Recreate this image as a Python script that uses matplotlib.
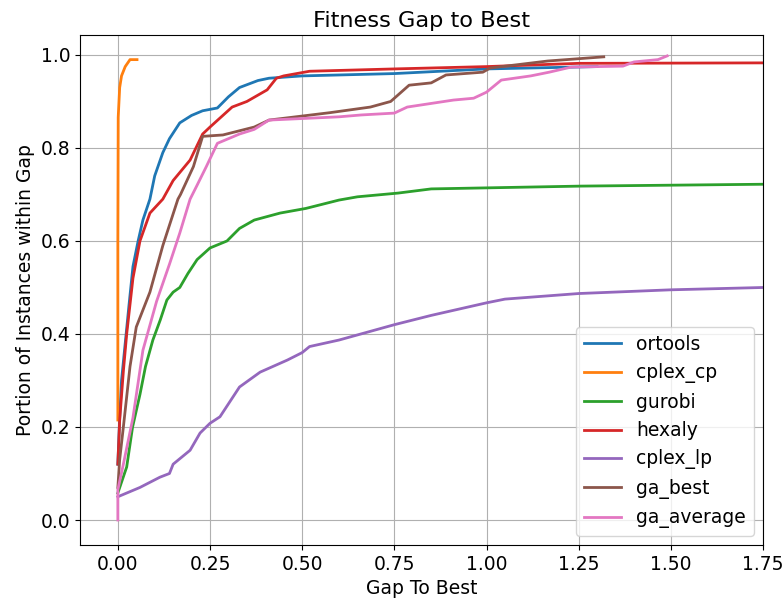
import matplotlib
matplotlib.use("Agg")
import matplotlib.pyplot as plt

# gap values (x) and portion of instances within gap (y)
ortools_x = [0.0, 0.005, 0.01, 0.02, 0.03, 0.041, 0.055, 0.068, 0.087, 0.1, 0.122, 0.14, 0.168, 0.2, 0.23, 0.27, 0.3, 0.33, 0.38, 0.41, 0.5, 0.75, 1.0, 1.3]
ortools_y = [0.12, 0.22, 0.3, 0.38, 0.46, 0.545, 0.6, 0.645, 0.69, 0.74, 0.79, 0.82, 0.854, 0.87, 0.88, 0.886, 0.91, 0.93, 0.945, 0.95, 0.955, 0.96, 0.97, 0.975]

cplex_cp_x = [0.0, 0.0, 0.001, 0.005, 0.01, 0.02, 0.033, 0.052]
cplex_cp_y = [0.215, 0.6, 0.866, 0.93, 0.955, 0.975, 0.99, 0.99]

gurobi_x = [0.0, 0.024, 0.04, 0.06, 0.075, 0.095, 0.115, 0.133, 0.15, 0.168, 0.19, 0.215, 0.25, 0.296, 0.33, 0.37, 0.44, 0.51, 0.6, 0.65, 0.76, 0.85, 1.255, 1.75, 1.9]
gurobi_y = [0.058, 0.114, 0.2, 0.27, 0.33, 0.387, 0.43, 0.473, 0.49, 0.50, 0.53, 0.56, 0.585, 0.60, 0.627, 0.645, 0.66, 0.67, 0.688, 0.695, 0.703, 0.712, 0.718, 0.722, 0.723]

hexaly_x = [0.0, 0.005, 0.015, 0.024, 0.041, 0.06, 0.087, 0.122, 0.15, 0.196, 0.23, 0.25, 0.31, 0.35, 0.405, 0.43, 0.45, 0.52, 0.75, 1.0, 1.25, 1.75, 1.9]
hexaly_y = [0.12, 0.215, 0.32, 0.40, 0.52, 0.60, 0.66, 0.69, 0.73, 0.774, 0.83, 0.845, 0.888, 0.9, 0.925, 0.95, 0.955, 0.965, 0.97, 0.975, 0.982, 0.983, 0.983]

cplex_lp_x = [0.0, 0.06, 0.114, 0.14, 0.15, 0.196, 0.223, 0.25, 0.277, 0.33, 0.386, 0.46, 0.5, 0.52, 0.6, 0.75, 0.85, 1.0, 1.05, 1.25, 1.5, 1.75, 1.9]
cplex_lp_y = [0.05, 0.07, 0.092, 0.1, 0.12, 0.15, 0.187, 0.208, 0.222, 0.286, 0.318, 0.344, 0.36, 0.373, 0.387, 0.42, 0.44, 0.467, 0.475, 0.487, 0.495, 0.50, 0.502]

ga_best_x = [0.0, 0.005, 0.015, 0.033, 0.05, 0.087, 0.122, 0.163, 0.17, 0.205, 0.23, 0.285, 0.37, 0.41, 0.576, 0.685, 0.74, 0.79, 0.85, 0.89, 0.99, 1.01, 1.166, 1.318]
ga_best_y = [0.07, 0.13, 0.2, 0.33, 0.415, 0.49, 0.59, 0.69, 0.70, 0.76, 0.825, 0.828, 0.845, 0.86, 0.876, 0.888, 0.9, 0.935, 0.94, 0.957, 0.963, 0.972, 0.987, 0.996]

ga_average_x = [0.0, 0.0, 0.015, 0.041, 0.068, 0.105, 0.14, 0.168, 0.196, 0.215, 0.24, 0.27, 0.33, 0.37, 0.41, 0.6, 0.66, 0.75, 0.785, 0.91, 0.965, 1.0, 1.04, 1.12, 1.17, 1.23, 1.37, 1.4, 1.465, 1.49]
ga_average_y = [0.0, 0.065, 0.12, 0.22, 0.365, 0.47, 0.55, 0.617, 0.69, 0.72, 0.76, 0.81, 0.83, 0.84, 0.86, 0.867, 0.871, 0.875, 0.888, 0.903, 0.907, 0.92, 0.946, 0.955, 0.963, 0.974, 0.976, 0.985, 0.99, 0.998]

series = [
    ("ortools", ortools_x, ortools_y),
    ("cplex_cp", cplex_cp_x, cplex_cp_y),
    ("gurobi", gurobi_x, gurobi_y),
    ("hexaly", hexaly_x, hexaly_y),
    ("cplex_lp", cplex_lp_x, cplex_lp_y),
    ("ga_best", ga_best_x, ga_best_y),
    ("ga_average", ga_average_x, ga_average_y),
]

plt.rcParams['font.size'] = 13.5

fig = plt.figure(figsize=(7.83, 6.03), dpi=100)
ax = fig.add_axes([0.102, 0.096, 0.8725, 0.846])
for name, xs, ys in series:
    ax.plot(xs, ys, label=name, linewidth=2)

ax.set_xlim(-0.103, 1.75)
ax.set_ylim(-0.054, 1.043)
ax.set_title('Fitness Gap to Best')
ax.set_xlabel('Gap To Best')
ax.set_ylabel('Portion of Instances within Gap')
ax.grid(True)
ax.legend(loc='lower right')

fig.savefig('out.png', dpi=100)
